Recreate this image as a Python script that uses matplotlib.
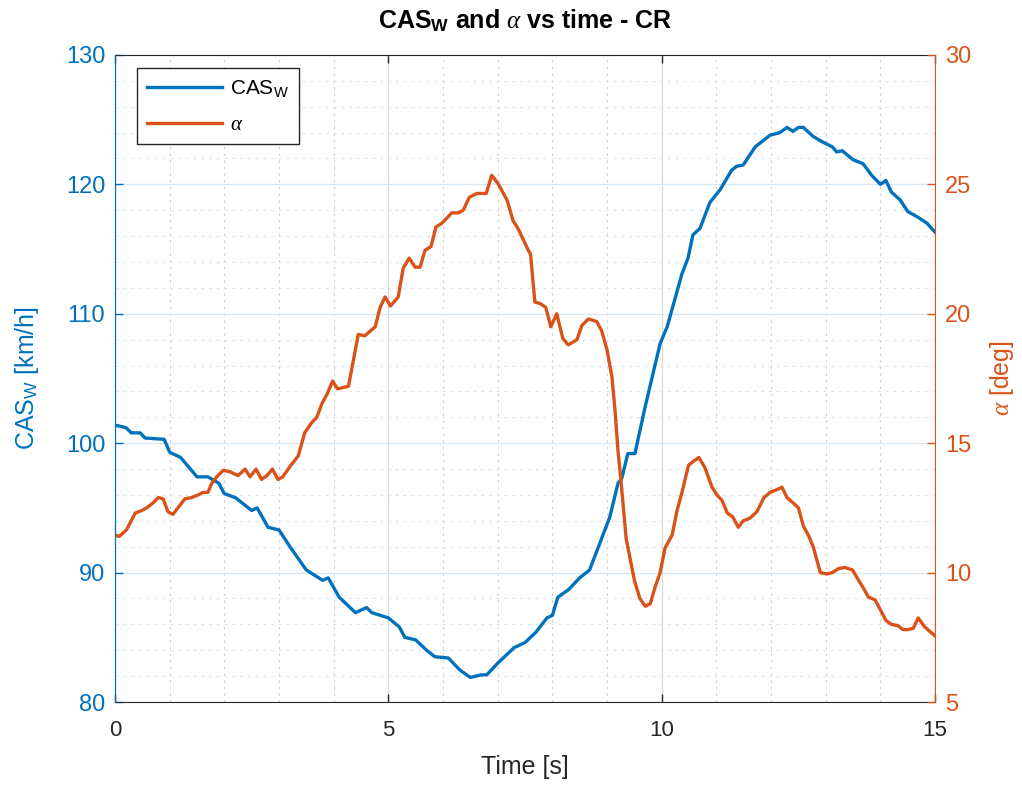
import matplotlib
matplotlib.use("Agg")
import matplotlib.pyplot as plt
from matplotlib.ticker import MultipleLocator

plt.rcParams['font.family'] = ['Liberation Sans', 'DejaVu Sans']
plt.rcParams['mathtext.fontset'] = 'custom'
plt.rcParams['mathtext.rm'] = 'Liberation Sans'
plt.rcParams['mathtext.it'] = 'Liberation Serif:italic'
plt.rcParams['mathtext.bf'] = 'Liberation Sans:bold'

BLUE = "#0072BD"
ORANGE = "#D95319"

# CAS_W [km/h] vs time [s]
cas_t = [0, 0.2, 0.3, 0.46, 0.55, 0.9, 1.0, 1.2, 1.5, 1.7,
         1.9, 2.0, 2.2, 2.5, 2.6, 2.8, 3.0, 3.2, 3.5, 3.8,
         3.9, 4.1, 4.4, 4.6, 4.7, 5.0, 5.2, 5.3, 5.5, 5.7,
         5.85, 6.1, 6.3, 6.5, 6.7, 6.8, 7.0, 7.3, 7.5, 7.7,
         7.9, 8.0, 8.1, 8.3, 8.5, 8.68, 8.87, 9.05, 9.2, 9.27,
         9.38, 9.51, 9.69, 9.97, 10.1, 10.37, 10.48, 10.57, 10.7, 10.88,
         11.07, 11.28, 11.37, 11.49, 11.71, 11.8, 11.98, 12.16, 12.29, 12.4,
         12.5, 12.59, 12.77, 12.93, 13.12, 13.2, 13.3, 13.5, 13.68, 13.84,
         14.0, 14.1, 14.2, 14.36, 14.5, 14.67, 14.85, 15.0]
cas = [101.4, 101.2, 100.8, 100.8, 100.4, 100.3, 99.3, 98.9, 97.4, 97.4,
       96.9, 96.1, 95.8, 94.8, 95.0, 93.5, 93.3, 92.0, 90.2, 89.4,
       89.6, 88.1, 86.9, 87.3, 86.9, 86.5, 85.8, 85.0, 84.8, 84.0,
       83.5, 83.4, 82.5, 81.9, 82.1, 82.1, 83.0, 84.2, 84.6, 85.4,
       86.5, 86.7, 88.1, 88.7, 89.6, 90.2, 92.3, 94.3, 96.9, 97.3,
       99.2, 99.2, 102.7, 107.7, 109.0, 113.1, 114.3, 116.1, 116.6, 118.6,
       119.6, 121.1, 121.4, 121.5, 122.9, 123.2, 123.8, 124.0, 124.4, 124.1,
       124.4, 124.4, 123.7, 123.3, 122.9, 122.5, 122.6, 121.9, 121.6, 120.7,
       120.0, 120.3, 119.4, 118.8, 117.9, 117.5, 117.0, 116.3]

# alpha [deg] vs time [s]
alpha_t = [0, 0.08, 0.21, 0.37, 0.49, 0.58, 0.7, 0.79, 0.88, 0.97,
           1.06, 1.15, 1.28, 1.4, 1.52, 1.61, 1.7, 1.77, 1.86, 1.98,
           2.1, 2.25, 2.38, 2.47, 2.58, 2.68, 2.78, 2.88, 2.98, 3.07,
           3.2, 3.35, 3.47, 3.6, 3.69, 3.79, 3.88, 3.98, 4.07, 4.27,
           4.45, 4.57, 4.76, 4.85, 4.94, 5.04, 5.18, 5.27, 5.38, 5.49,
           5.58, 5.67, 5.78, 5.87, 5.98, 6.16, 6.28, 6.37, 6.48, 6.62,
           6.79, 6.89, 7.0, 7.17, 7.28, 7.37, 7.56, 7.6, 7.68, 7.77,
           7.88, 7.97, 8.08, 8.19, 8.29, 8.45, 8.54, 8.66, 8.81, 8.9,
           9.0, 9.09, 9.15, 9.2, 9.25, 9.35, 9.5, 9.6, 9.7, 9.79,
           9.88, 9.97, 10.06, 10.19, 10.28, 10.37, 10.49, 10.58, 10.68, 10.79,
           10.92, 11.01, 11.1, 11.2, 11.3, 11.4, 11.49, 11.61, 11.74, 11.87,
           11.98, 12.1, 12.2, 12.29, 12.4, 12.5, 12.59, 12.68, 12.77, 12.9,
           13.02, 13.12, 13.23, 13.35, 13.49, 13.6, 13.69, 13.78, 13.9, 13.99,
           14.1, 14.2, 14.32, 14.41, 14.5, 14.6, 14.69, 14.81, 15.0]
alpha = [11.45, 11.4, 11.65, 12.3, 12.4, 12.5, 12.7, 12.9, 12.85, 12.35,
         12.25, 12.5, 12.85, 12.9, 13.0, 13.1, 13.1, 13.45, 13.7, 13.95,
         13.9, 13.75, 14.0, 13.7, 14.0, 13.6, 13.75, 14.0, 13.6, 13.7,
         14.1, 14.5, 15.4, 15.8, 16.0, 16.55, 16.9, 17.4, 17.1, 17.2,
         19.2, 19.15, 19.5, 20.25, 20.65, 20.3, 20.65, 21.75, 22.15, 21.8,
         21.8, 22.45, 22.6, 23.35, 23.5, 23.9, 23.9, 24.0, 24.5, 24.65,
         24.65, 25.35, 25.05, 24.4, 23.6, 23.3, 22.45, 22.3, 20.45, 20.4,
         20.25, 19.5, 20.0, 19.05, 18.8, 19.0, 19.55, 19.8, 19.7, 19.35,
         18.6, 17.55, 16.15, 14.7, 13.65, 11.3, 9.7, 9.0, 8.7, 8.8,
         9.45, 10.0, 10.95, 11.45, 12.4, 13.1, 14.15, 14.3, 14.45, 14.05,
         13.3, 13.0, 12.8, 12.3, 12.15, 11.75, 12.0, 12.1, 12.35, 12.9,
         13.1, 13.2, 13.3, 12.9, 12.7, 12.5, 11.8, 11.45, 11.0, 10.0,
         9.95, 10.0, 10.15, 10.2, 10.1, 9.7, 9.4, 9.05, 8.95, 8.6,
         8.15, 8.0, 7.95, 7.8, 7.8, 7.85, 8.25, 7.9, 7.55]

fig = plt.figure(figsize=(10.22, 7.85), dpi=100)
ax1 = fig.add_axes([0.1125, 0.1057, 0.8025, 0.8243])
ax2 = ax1.twinx()

l1, = ax1.plot(cas_t, cas, color=BLUE, lw=2.4, label=r'CAS$_{\mathrm{W}}$')
l2, = ax2.plot(alpha_t, alpha, color=ORANGE, lw=2.4, label=r'$\alpha$')

ax1.set_xlim(0, 15)
ax1.set_ylim(80, 130)
ax2.set_ylim(5, 30)
ax1.set_xticks([0, 5, 10, 15])
ax1.set_yticks(range(80, 131, 10))
ax2.set_yticks(range(5, 31, 5))
ax1.xaxis.set_minor_locator(MultipleLocator(1))
ax1.yaxis.set_minor_locator(MultipleLocator(2))

# grids, MATLAB style
ax1.grid(True, which='major', axis='x', color='#d9d9d9', lw=0.9)
ax1.grid(True, which='minor', axis='x', color='#cccccc', lw=0.8, ls=(0, (2, 4)))
ax1.grid(True, which='major', axis='y', color='#d6e6f3', lw=0.9)
ax1.grid(True, which='minor', axis='y', color='#d6e6f3', lw=0.8, ls=(0, (3, 4)))
ax1.set_axisbelow(True)

ax1.tick_params(which='major', direction='in', length=6, width=1, labelsize=16,
                top=True, right=False, pad=7)
ax1.tick_params(which='minor', length=0)
ax1.tick_params(axis='y', colors=BLUE, labelsize=17)
ax1.tick_params(axis='x', colors='#262626', pad=13)
ax2.tick_params(axis='y', direction='in', length=6, width=1, colors=ORANGE,
                labelsize=17, pad=7)

for s in ['top', 'bottom']:
    ax1.spines[s].set_color('#262626')
ax2.spines['top'].set_visible(False)
ax2.spines['bottom'].set_visible(False)
ax1.spines['left'].set_color(BLUE)
ax2.spines['left'].set_color(BLUE)
ax2.spines['right'].set_color(ORANGE)
ax1.spines['right'].set_visible(False)

ax1.set_xlabel('Time [s]', fontsize=18, color='#262626', labelpad=10)
ax1.set_ylabel(r'CAS$_{\mathrm{W}}$ [km/h]', fontsize=18, color=BLUE, labelpad=18)
ax2.set_ylabel(r'$\alpha$ [deg]', fontsize=18, color=ORANGE, labelpad=12)
ax1.set_title(r'CAS$_{\mathbf{W}}$ and $\alpha$ vs time - CR', fontsize=18,
              fontweight='bold', pad=19)

leg = ax2.legend(handles=[l1, l2], loc='upper left', bbox_to_anchor=(0.0268, 0.98),
                 borderaxespad=0, fontsize=15, frameon=True, fancybox=False,
                 framealpha=1, edgecolor='#262626', handlelength=3.6,
                 handletextpad=0.35, borderpad=0.5, labelspacing=0.75)
leg.get_frame().set_linewidth(1.0)

fig.savefig('out.png', dpi=100)
